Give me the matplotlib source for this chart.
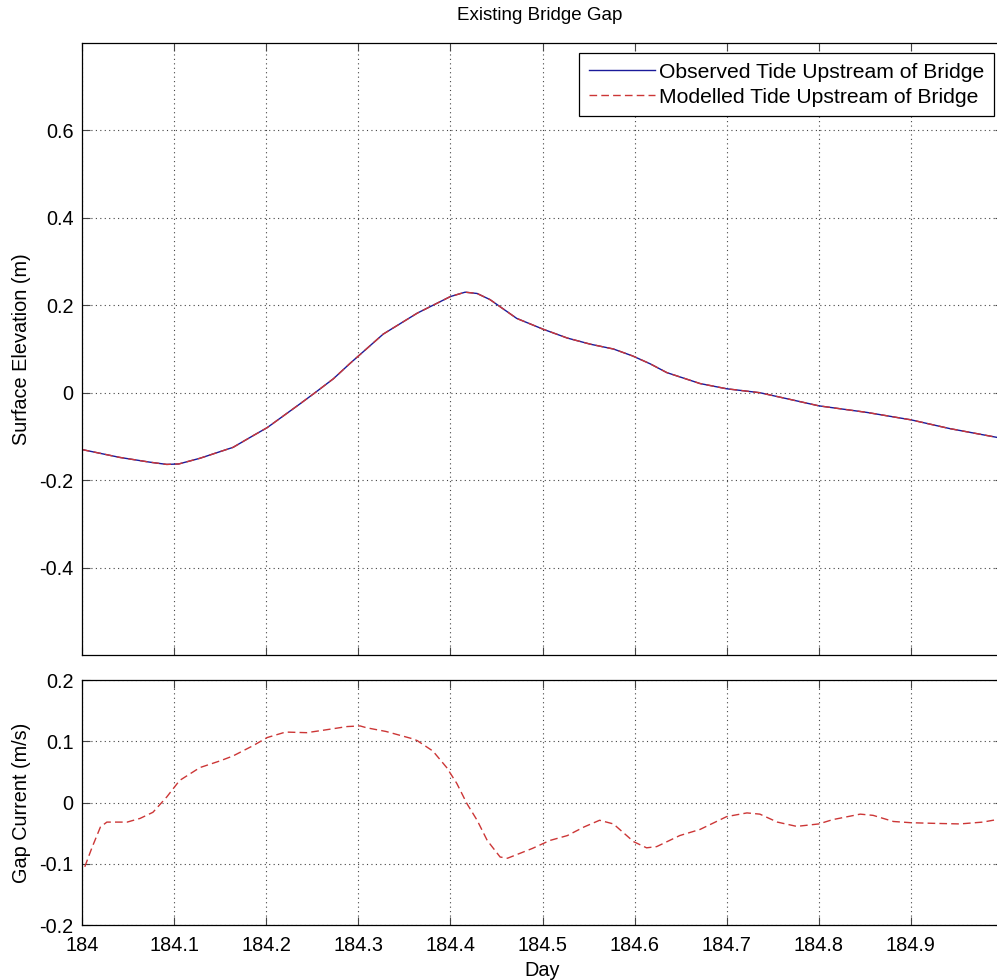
import matplotlib
matplotlib.use("Agg")
import matplotlib.pyplot as plt

plt.rcParams['font.family'] = ['Liberation Sans', 'DejaVu Sans']

# Surface elevation upstream of the bridge (day of year, metres)
tide_day = [184.000, 184.041, 184.074, 184.092, 184.105, 184.128, 184.164, 184.186,
            184.201, 184.237, 184.253, 184.273, 184.291, 184.327, 184.364, 184.400,
            184.416, 184.429, 184.443, 184.472, 184.501, 184.527, 184.552, 184.577,
            184.598, 184.617, 184.635, 184.671, 184.700, 184.736, 184.766, 184.800,
            184.852, 184.900, 184.942, 184.993]
tide_observed = [-0.130, -0.148, -0.159, -0.164, -0.163, -0.150, -0.125, -0.098,
                 -0.080, -0.025, 0.000, 0.032, 0.067, 0.134, 0.182, 0.220,
                 0.230, 0.227, 0.213, 0.170, 0.145, 0.125, 0.111, 0.100,
                 0.084, 0.066, 0.046, 0.021, 0.009, 0.000, -0.014, -0.030,
                 -0.045, -0.062, -0.082, -0.102]
tide_modelled = [-0.130, -0.148, -0.159, -0.164, -0.163, -0.150, -0.125, -0.098,
                 -0.080, -0.025, 0.000, 0.032, 0.067, 0.134, 0.182, 0.220,
                 0.230, 0.227, 0.213, 0.170, 0.145, 0.125, 0.111, 0.100,
                 0.084, 0.066, 0.046, 0.021, 0.009, 0.000, -0.014, -0.030,
                 -0.045, -0.062, -0.082, -0.102]

# Modelled current through the bridge gap (m/s)
current_day = [184.003, 184.011, 184.020, 184.027, 184.049, 184.063, 184.077, 184.092,
               184.106, 184.128, 184.150, 184.164, 184.186, 184.201, 184.221, 184.244,
               184.262, 184.288, 184.302, 184.309, 184.330, 184.359, 184.364, 184.381,
               184.396, 184.407, 184.418, 184.429, 184.440, 184.454, 184.462, 184.489,
               184.508, 184.527, 184.545, 184.562, 184.577, 184.599, 184.613, 184.624,
               184.649, 184.671, 184.700, 184.722, 184.736, 184.755, 184.776, 184.800,
               184.815, 184.845, 184.859, 184.881, 184.900, 184.924, 184.953, 184.978,
               184.993]
current_modelled = [-0.105, -0.073, -0.040, -0.032, -0.032, -0.026, -0.016, 0.009,
                    0.036, 0.057, 0.068, 0.076, 0.093, 0.106, 0.115, 0.114,
                    0.118, 0.124, 0.125, 0.122, 0.116, 0.104, 0.101, 0.084,
                    0.057, 0.031, -0.002, -0.029, -0.062, -0.089, -0.091, -0.075,
                    -0.062, -0.054, -0.040, -0.029, -0.035, -0.064, -0.074, -0.072,
                    -0.054, -0.044, -0.023, -0.017, -0.019, -0.032, -0.039, -0.035,
                    -0.028, -0.019, -0.021, -0.031, -0.033, -0.034, -0.035, -0.032,
                    -0.028]

day_ticks = [184.0, 184.1, 184.2, 184.3, 184.4, 184.5, 184.6, 184.7, 184.8, 184.9]
day_labels = ['184', '184.1', '184.2', '184.3', '184.4', '184.5', '184.6', '184.7', '184.8', '184.9']
elev_ticks = [-0.4, -0.2, 0.0, 0.2, 0.4, 0.6]
elev_labels = ['-0.4', '-0.2', '0', '0.2', '0.4', '0.6']
curr_ticks = [-0.2, -0.1, 0.0, 0.1, 0.2]
curr_labels = ['-0.2', '-0.1', '0', '0.1', '0.2']

FS = 14.3
BLUE = '#1a1a9a'
RED = '#cc3636'
DASH = (0, (5.5, 3))

fig = plt.figure(figsize=(9.97, 9.80), dpi=100)
W, H = 997.0, 980.0
x0 = 82 / W
width = (1003 - 82) / W
ax1 = fig.add_axes([x0, 1 - 655 / H, width, (655 - 43) / H])
ax2 = fig.add_axes([x0, 1 - 925 / H, width, (925 - 680) / H])


def style(ax):
    ax.grid(True, linestyle=(0, (1, 3)), color='#444444', linewidth=0.8)
    ax.set_axisbelow(True)
    ax.tick_params(direction='in', top=True, right=True, length=6, width=0.8,
                   labelsize=FS, color='#444444')
    ax.tick_params(axis='x', pad=8)
    ax.tick_params(axis='y', pad=6)
    for s in ax.spines.values():
        s.set_linewidth(0.9)
        s.set_color('black')


ax1.plot(tide_day, tide_observed, color=BLUE, linewidth=1.0,
         label='Observed Tide Upstream of Bridge')
ax1.plot(tide_day, tide_modelled, color=RED, linewidth=1.0, linestyle=DASH,
         label='Modelled Tide Upstream of Bridge')
ax1.set_xlim(184.0, 185.0)
ax1.set_ylim(-0.6, 0.8)
ax1.set_xticks(day_ticks)
ax1.set_xticklabels([])
ax1.set_yticks(elev_ticks)
ax1.set_yticklabels(elev_labels)
ax1.set_ylabel('Surface Elevation (m)', fontsize=FS, labelpad=6)
style(ax1)
leg = ax1.legend(loc='upper right', bbox_to_anchor=(994 / W, 1 - 53 / H),
                 bbox_transform=fig.transFigure, fontsize=15.2, frameon=True,
                 fancybox=False, edgecolor='black', framealpha=1.0,
                 handlelength=3.15, handletextpad=0.2, borderpad=0.45,
                 labelspacing=0.3, borderaxespad=0.0)
leg.get_frame().set_linewidth(0.9)

ax2.plot(current_day, current_modelled, color=RED, linewidth=1.0, linestyle=DASH)
ax2.set_xlim(184.0, 185.0)
ax2.set_ylim(-0.2, 0.2)
ax2.set_xticks(day_ticks)
ax2.set_xticklabels(day_labels)
ax2.set_yticks(curr_ticks)
ax2.set_yticklabels(curr_labels)
ax2.set_ylabel('Gap Current (m/s)', fontsize=FS, labelpad=6)
ax2.set_xlabel('Day', fontsize=FS, labelpad=4)
style(ax2)

fig.text(540 / W, 1 - 16 / H, 'Existing Bridge Gap', fontsize=13.5,
         ha='center', va='center')

fig.savefig('out.png', dpi=100)
